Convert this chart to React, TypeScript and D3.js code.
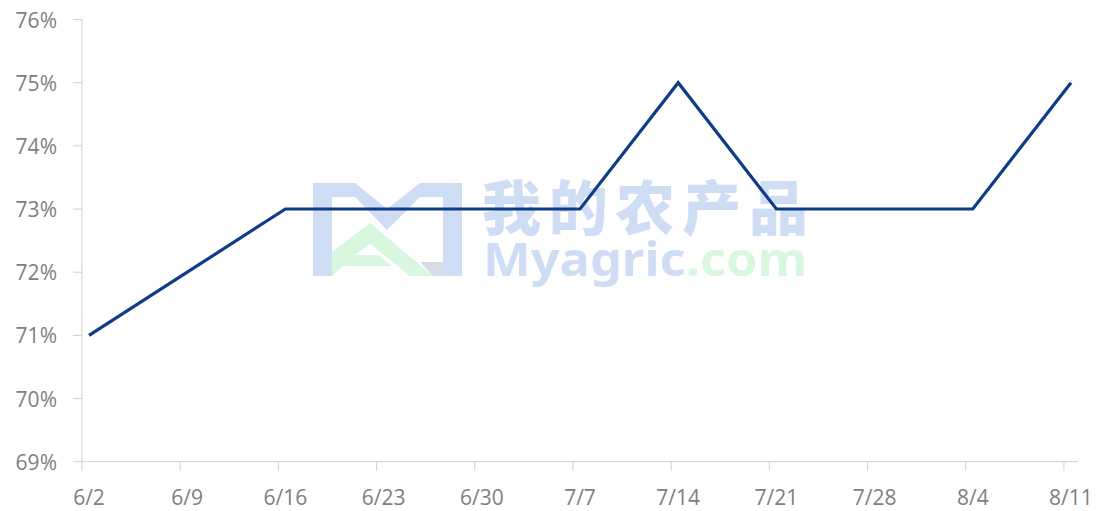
import React from "react";
import * as d3 from "d3";

const categories = ["6/2", "6/9", "6/16", "6/23", "6/30", "7/7", "7/14", "7/21", "7/28", "8/4", "8/11"];
const values = [71, 72, 73, 73, 73, 73, 75, 73, 73, 73, 75];
const yTicks = [69, 70, 71, 72, 73, 74, 75, 76];
const DAYS_PER_STEP = 7;

const W = 1106;
const H = 511;
const left = 82;
const right = 1078;
const top = 19.5;
const bottom = 461.7;

export default function App() {
  const x = d3.scaleLinear().domain([0, categories.length * DAYS_PER_STEP - DAYS_PER_STEP + 1]).range([left, right]);
  const y = d3.scaleLinear().domain([69, 76]).range([bottom, top]);
  const line = d3
    .line<number>()
    .x((_, i) => x(i * DAYS_PER_STEP + 0.5))
    .y((d) => y(d));
  const axisColor = "#d0d0d0";
  const textColor = "#808080";
  const font = "'Open Sans', 'Liberation Sans', sans-serif";
  const wmBlue = "#cfddf4";
  const wmGreen = "#d8f7de";

  return (
    <svg width={W} height={H} style={{ position: "absolute", left: 0, top: 0, background: "#fff" }}>
      {/* watermark */}
      <g>
        <path
          d={`M313,183 L355,183 L387,209 L420,183 L462,183 L462,276 L443,276 L443,197 L420,197 L387,230 L355,197 L332,197 L332,276 L313,276 Z`}
          fill={wmBlue}
        />
        <path d="M420,262 L443,262 L443,276 L433,276 Z" fill="#d6dbe6" />
        <path d="M332,252 L370,223 L433,276 L410,276 L370,244 L355,255 L378,255 L392,266 L343,266 L332,276 Z" fill={wmGreen} />
        <text
          x={482}
          y={230}
          fontFamily="'Noto Sans CJK SC', sans-serif"
          fontWeight={900}
          fontSize={59}
          fill={wmBlue}
          textLength={326}
          lengthAdjust="spacing"
        >
          我的农产品
        </text>
        <text
          x={483}
          y={276}
          fontFamily="'Noto Sans', 'DejaVu Sans', sans-serif"
          fontWeight={700}
          fontSize={46}
          textLength={324}
          lengthAdjust="spacingAndGlyphs"
        >
          <tspan fill={wmBlue}>Myagric</tspan>
          <tspan fill={wmGreen}>.com</tspan>
        </text>
      </g>

      {/* axes */}
      <line x1={left} x2={left} y1={top} y2={bottom} stroke={axisColor} strokeWidth={1} />
      <line x1={left} x2={right} y1={bottom} y2={bottom} stroke={axisColor} strokeWidth={1} />
      {yTicks.map((t) => (
        <g key={t}>
          <line x1={left - 9} x2={left} y1={y(t)} y2={y(t)} stroke={axisColor} strokeWidth={1} />
          <text
            x={57}
            y={y(t)}
            textAnchor="end"
            dominantBaseline="central"
            fontFamily={font}
            fontSize={21}
            fill={textColor}
          >
            {t}%
          </text>
        </g>
      ))}
      {categories.map((c, i) => (
        <g key={c}>
          <line
            x1={x(i * DAYS_PER_STEP)}
            x2={x(i * DAYS_PER_STEP)}
            y1={bottom}
            y2={bottom + 9}
            stroke={axisColor}
            strokeWidth={1}
          />
          <text
            x={x(i * DAYS_PER_STEP + 0.5)}
            y={497}
            textAnchor="middle"
            dominantBaseline="central"
            fontFamily={font}
            fontSize={21}
            fill={textColor}
          >
            {c}
          </text>
        </g>
      ))}

      <path d={line(values) || ""} fill="none" stroke="#0e3d87" strokeWidth={3.2} strokeLinejoin="miter" />
    </svg>
  );
}
